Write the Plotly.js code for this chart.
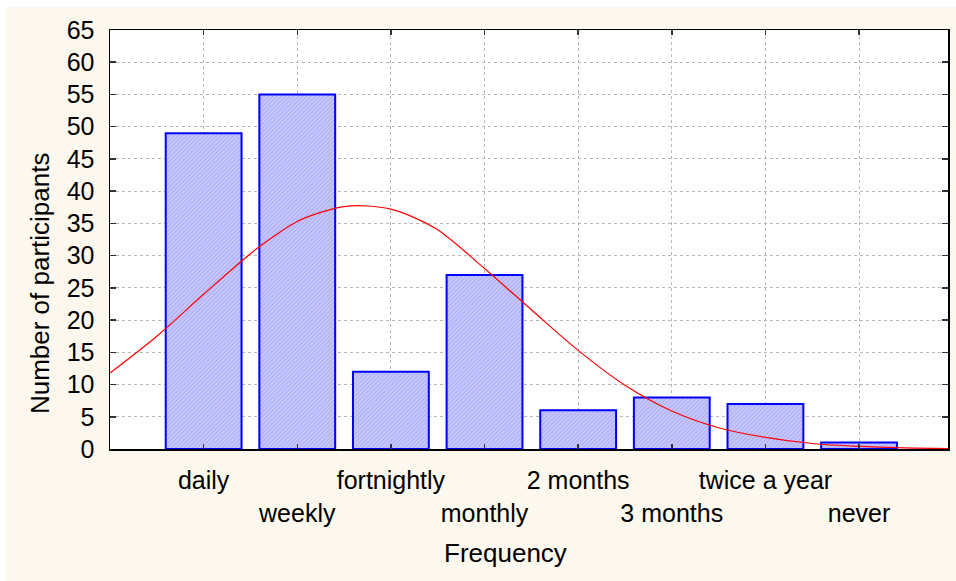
<!DOCTYPE html>
<html>
<head>
<meta charset="utf-8">
<script src="https://cdn.plot.ly/plotly-3.0.1.min.js"></script>
<style>
  html, body { margin: 0; padding: 0; background: #ffffff; width: 956px; height: 581px; overflow: hidden; }
  #chart { position: absolute; left: 6px; top: 7px; width: 950px; height: 574px; }
</style>
</head>
<body>
<div id="chart"></div>
<script>
// Categories and counts
const categories = ["daily", "weekly", "fortnightly", "monthly", "2 months", "3 months", "twice a year", "never"];
const counts = [49, 55, 12, 27, 6, 8, 7, 1];

// Fitted normal curve (x in category index units)
const curveX = [-1.0, -0.5, 0, 0.5, 0.75, 1.0, 1.25, 1.5, 1.75, 2.0, 2.25, 2.5, 3.0, 3.5, 4.0, 4.5, 5.0, 5.5, 6.0, 6.5, 7.0, 7.5, 7.95];
const curveY = [11.8, 17.5, 24.0, 30.3, 33.0, 35.3, 36.7, 37.6, 37.7, 37.2, 35.9, 34.0, 28.0, 21.6, 15.3, 9.9, 5.9, 3.3, 1.8, 0.85, 0.4, 0.18, 0.08];

// Y ticks
const yTicks = [0, 5, 10, 15, 20, 25, 30, 35, 40, 45, 50, 55, 60, 65];

const idx = categories.map((c, i) => i);
const row2Vals = idx.filter(i => i % 2 === 1);
const row1Text = idx.map(i => (i % 2 === 0 ? categories[i] : ""));
const row2Text = row2Vals.map(i => categories[i]);

const FONT = "Liberation Sans, Arial, sans-serif";

const bars = {
  type: "bar",
  x: idx,
  y: counts,
  width: 0.81,
  marker: {
    color: "#c4c4ff",
    line: { color: "#0000ff", width: 2 },
    pattern: { shape: "/", bgcolor: "#c8c8ff", fgcolor: "#a6a6f2", size: 3, solidity: 0.3, fillmode: "replace" }
  },
  hoverinfo: "skip",
  showlegend: false
};

const curve = {
  type: "scatter",
  mode: "lines",
  x: curveX,
  y: curveY,
  line: { color: "#ff0000", width: 1.2, shape: "spline", smoothing: 1 },
  hoverinfo: "skip",
  showlegend: false
};

// invisible carrier so the second label row axis is drawn
const carrier = {
  type: "scatter",
  mode: "markers",
  x: [row2Vals[0]],
  y: [0],
  xaxis: "x2",
  yaxis: "y",
  marker: { size: 1, opacity: 0 },
  hoverinfo: "skip",
  showlegend: false
};

const layout = {
  width: 950,
  height: 574,
  margin: { l: 104, r: 8, t: 23, b: 132 },
  paper_bgcolor: "#fdf8ed",
  plot_bgcolor: "#ffffff",
  font: { family: FONT, size: 25, color: "#000000" },
  bargap: 0.19,
  xaxis: {
    range: [-1, 7.95],
    tickmode: "array",
    tickvals: idx,
    ticktext: row1Text,
    ticks: "inside",
    ticklen: 5,
    tickwidth: 1.5,
    tickcolor: "#333333",
    showline: true,
    linecolor: "#000000",
    linewidth: 1.5,
    mirror: "ticks",
    showgrid: true,
    gridcolor: "#b8b8b8",
    griddash: "dot",
    gridwidth: 1,
    zeroline: false,
    tickfont: { family: FONT, size: 25, color: "#000000" },
    ticklabelstandoff: 8,
    fixedrange: true
  },
  xaxis2: {
    overlaying: "x",
    anchor: "y",
    side: "bottom",
    range: [-1, 7.95],
    tickmode: "array",
    tickvals: row2Vals,
    ticktext: row2Text,
    ticks: "",
    showline: false,
    showgrid: false,
    zeroline: false,
    tickfont: { family: FONT, size: 25, color: "#000000" },
    ticklabelstandoff: 47,
    fixedrange: true
  },
  yaxis: {
    range: [0, 65],
    tickmode: "array",
    tickvals: yTicks,
    ticks: "inside",
    ticklen: 6,
    tickwidth: 1.5,
    tickcolor: "#333333",
    showline: true,
    linecolor: "#000000",
    linewidth: 1.5,
    mirror: "ticks",
    showgrid: true,
    gridcolor: "#b8b8b8",
    griddash: "dot",
    gridwidth: 1,
    zeroline: false,
    tickfont: { family: FONT, size: 25, color: "#000000" },
    ticklabelstandoff: 9,
    fixedrange: true
  },
  annotations: [
    {
      text: "Number of participants",
      xref: "paper", yref: "paper",
      x: -0.0835, y: 0.396,
      xanchor: "center", yanchor: "middle",
      textangle: -90,
      showarrow: false,
      font: { family: FONT, size: 26, color: "#000000" }
    },
    {
      text: "Frequency",
      xref: "paper", yref: "paper",
      x: 0.4714, y: -0.248,
      xanchor: "center", yanchor: "middle",
      showarrow: false,
      font: { family: FONT, size: 26, color: "#000000" }
    }
  ]
};

Plotly.newPlot("chart", [bars, curve, carrier], layout, { displayModeBar: false, staticPlot: true });
</script>
</body>
</html>
